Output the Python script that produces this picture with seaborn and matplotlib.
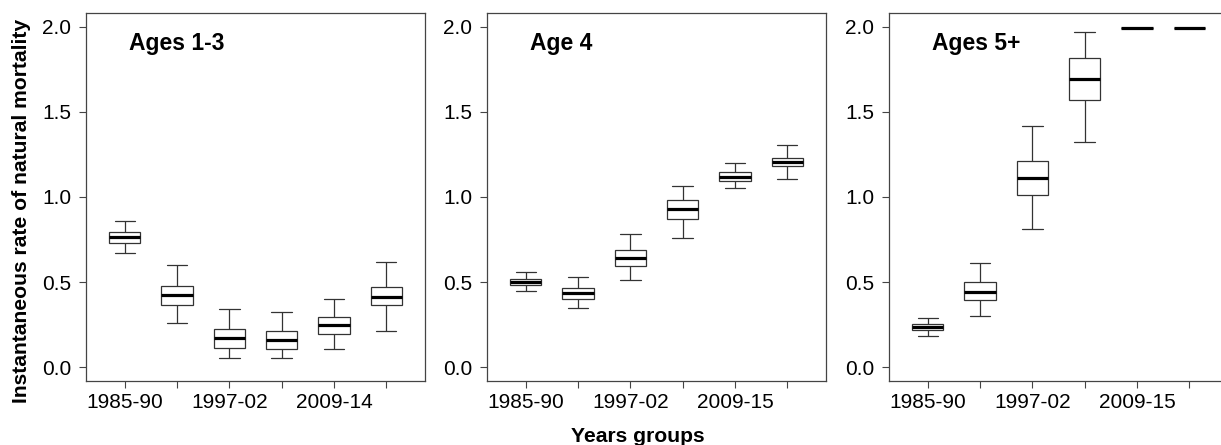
import numpy as np
import pandas as pd
import matplotlib
matplotlib.use("Agg")
import matplotlib.pyplot as plt
import seaborn as sns

# ---- data ----
groups = ["1985-90", "1991-96", "1997-02", "2003-08", "2009-14", "2015-17"]
tick_labels_1 = ["1985-90", "", "1997-02", "", "2009-14", ""]
tick_labels_2 = ["1985-90", "", "1997-02", "", "2009-15", ""]
tick_labels_3 = ["1985-90", "", "1997-02", "", "2009-15", ""]
titles = ["Ages 1-3", "Age 4", "Ages 5+"]

# five-number summaries per group: lower whisker, q1, median, q3, upper whisker
ages13_low = [0.671, 0.262, 0.057, 0.057, 0.108, 0.215]
ages13_q1  = [0.730, 0.368, 0.111, 0.108, 0.196, 0.368]
ages13_med = [0.763, 0.425, 0.170, 0.158, 0.246, 0.415]
ages13_q3  = [0.794, 0.479, 0.227, 0.211, 0.296, 0.469]
ages13_hi  = [0.860, 0.598, 0.344, 0.323, 0.399, 0.616]

age4_low = [0.446, 0.346, 0.513, 0.761, 1.052, 1.105]
age4_q1  = [0.481, 0.403, 0.596, 0.870, 1.093, 1.181]
age4_med = [0.501, 0.436, 0.643, 0.929, 1.118, 1.205]
age4_q3  = [0.518, 0.467, 0.690, 0.984, 1.144, 1.228]
age4_hi  = [0.557, 0.532, 0.780, 1.064, 1.197, 1.304]

ages5_low = [0.186, 0.299, 0.813, 1.324, 1.99, 1.99]
ages5_q1  = [0.219, 0.393, 1.009, 1.568, 1.99, 1.99]
ages5_med = [0.237, 0.442, 1.113, 1.693, 1.99, 1.99]
ages5_q3  = [0.254, 0.499, 1.211, 1.816, 1.99, 1.99]
ages5_hi  = [0.290, 0.614, 1.416, 1.967, 1.99, 1.99]

ylabel = "Instantaneous rate of natural mortality"
xlabel = "Years groups"


def long_frame(low, q1, med, q3, hi):
    rows = []
    for g, a, b, c, d, e in zip(groups, low, q1, med, q3, hi):
        for v in (a, b, c, d, e):
            rows.append({"group": g, "value": v})
    return pd.DataFrame(rows)


panels = [
    (long_frame(ages13_low, ages13_q1, ages13_med, ages13_q3, ages13_hi), tick_labels_1),
    (long_frame(age4_low, age4_q1, age4_med, age4_q3, age4_hi), tick_labels_2),
    (long_frame(ages5_low, ages5_q1, ages5_med, ages5_q3, ages5_hi), tick_labels_3),
]

sns.set_style("white")
plt.rcParams["font.family"] = ["Liberation Sans", "DejaVu Sans"]
plt.rcParams["text.color"] = "black"
plt.rcParams["axes.labelcolor"] = "black"
plt.rcParams["xtick.color"] = "black"
plt.rcParams["ytick.color"] = "black"

W, H = 1221, 445
fig = plt.figure(figsize=(W / 100, H / 100), dpi=100)

lefts = [86, 487, 889]
ax_w = 339
ax_top, ax_bot = 13, 381
spine_col = "#444444"

for (df, tlabels), left, title in zip(panels, lefts, titles):
    ax = fig.add_axes([left / W, (H - ax_bot) / H, ax_w / W, (ax_bot - ax_top) / H])
    sns.boxplot(
        data=df, x="group", y="value", order=groups, ax=ax,
        whis=np.inf, width=0.6, color="white", linecolor="#333333",
        linewidth=0.9, showfliers=False, capwidths=0.39,
        medianprops={"color": "black", "linewidth": 2.3},
    )
    ax.set_xlim(-0.74, 5.74)
    ax.set_ylim(-0.08, 2.08)
    ax.set_yticks([0.0, 0.5, 1.0, 1.5, 2.0])
    ax.set_yticklabels(["0.0", "0.5", "1.0", "1.5", "2.0"])
    ax.set_xticks(range(len(groups)))
    ax.set_xticklabels(tlabels)
    ax.set_xlabel("")
    ax.set_ylabel("")
    for s in ax.spines.values():
        s.set_visible(True)
        s.set_color(spine_col)
        s.set_linewidth(0.9)
    ax.tick_params(axis="both", which="both", direction="out", length=5,
                   width=0.8, color=spine_col, labelsize=15, labelcolor="black")
    ax.tick_params(axis="y", pad=5.5, left=True)
    ax.tick_params(axis="x", pad=3.5, bottom=True)
    ax.text(0.08, 1.865, title, fontsize=16.5, fontweight="bold",
            ha="left", va="baseline", color="black")

fig.text(22 / W, (H - 211) / H, ylabel, rotation=90, fontsize=15.2,
         fontweight="bold", ha="center", va="center", color="black")
fig.text(638 / W, 3 / H, xlabel, fontsize=15.2, fontweight="bold",
         ha="center", va="baseline", color="black")

fig.savefig("out.png", dpi=100)
